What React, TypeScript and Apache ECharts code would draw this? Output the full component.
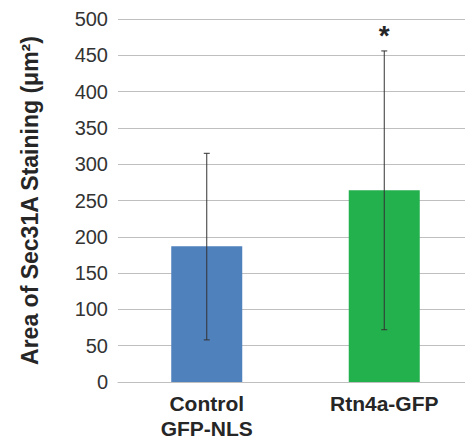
import React, { useEffect, useRef } from "react";
import * as echarts from "echarts";

const categories = ["Control\nGFP-NLS", "Rtn4a-GFP"];
const means = [187, 264];
const errLow = [58, 72];
const errHigh = [315, 456];
const significance = ["", "*"];
const barColors = ["#4F81BD", "#22B14C"];
const yTicks = { min: 0, max: 500, interval: 50 };

export default function App() {
  const ref = useRef<HTMLDivElement>(null);
  useEffect(() => {
    if (!ref.current) return;
    const chart = echarts.init(ref.current, null, { renderer: "svg" });
    chart.setOption({
      animation: false,
      grid: { left: 118, top: 19, width: 359, bottom: 56.5, containLabel: false },
      xAxis: {
        type: "category",
        data: categories,
        axisLine: { show: true, lineStyle: { color: "#bfbfbf", width: 1 } },
        axisTick: { show: false },
        axisLabel: {
          color: "#262626",
          fontFamily: "Liberation Sans",
          fontWeight: "bold",
          fontSize: 21,
          lineHeight: 25,
          margin: 9,
        },
      },
      yAxis: {
        type: "value",
        min: yTicks.min,
        max: yTicks.max,
        interval: yTicks.interval,
        name: "Area of Sec31A Staining (μm²)",
        nameLocation: "middle",
        nameGap: 77,
        nameTextStyle: {
          color: "#262626",
          fontFamily: "Liberation Sans",
          fontWeight: "bold",
          fontSize: 23,
        },
        axisLine: { show: false },
        axisTick: { show: false },
        axisLabel: {
          color: "#333333",
          fontFamily: "Liberation Sans",
          fontSize: 20,
          margin: 10,
        },
        splitLine: { show: true, lineStyle: { color: "#bfbfbf", width: 1 } },
      },
      series: [
        {
          type: "bar",
          barWidth: "40%",
          data: means.map((v, i) => ({ value: v, itemStyle: { color: barColors[i] } })),
        },
        {
          type: "custom",
          z: 10,
          data: categories.map((_, i) => [i, errLow[i], errHigh[i]]),
          renderItem: (params: any, api: any) => {
            const idx = api.value(0);
            const lo = api.coord([idx, api.value(1)]);
            const hi = api.coord([idx, api.value(2)]);
            const cap = 3;
            const style = { stroke: "#333333", lineWidth: 1 };
            const children: any[] = [
              { type: "line", shape: { x1: hi[0], y1: hi[1], x2: lo[0], y2: lo[1] }, style },
              { type: "line", shape: { x1: hi[0] - cap, y1: hi[1], x2: hi[0] + cap, y2: hi[1] }, style },
              { type: "line", shape: { x1: lo[0] - cap, y1: lo[1], x2: lo[0] + cap, y2: lo[1] }, style },
            ];
            const sig = significance[params.dataIndex];
            if (sig) {
              children.push({
                type: "text",
                x: hi[0],
                y: hi[1] - 1,
                style: {
                  text: sig,
                  fill: "#262626",
                  font: "bold 28px Liberation Sans",
                  align: "center",
                  verticalAlign: "bottom",
                },
              });
            }
            return { type: "group", children };
          },
        },
      ],
    });
    return () => chart.dispose();
  }, []);
  return (
    <div
      ref={ref}
      style={{ width: 473, height: 441, marginLeft: -8, marginTop: -8 }}
    />
  );
}
